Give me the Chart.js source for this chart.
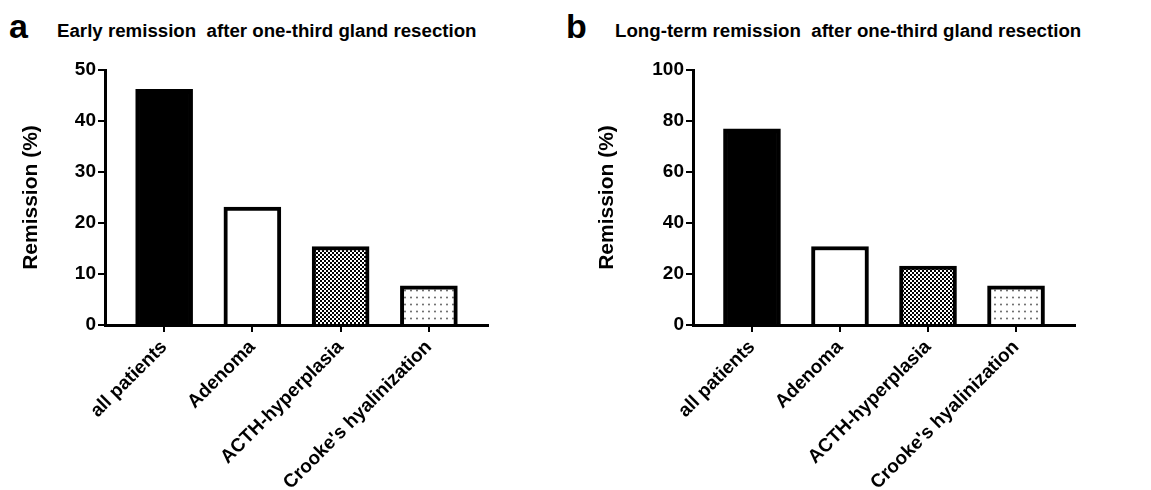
<!DOCTYPE html>
<html>
<head>
<meta charset="utf-8">
<script src="https://cdn.jsdelivr.net/npm/chart.js@4.4.0/dist/chart.umd.min.js"></script>
<style>
  html, body { margin: 0; padding: 0; background: #fff; }
  body { width: 1151px; height: 490px; position: relative; overflow: hidden; font-family: "Liberation Sans", Arial, sans-serif; color: #000; }
  .panel { position: absolute; top: 0; height: 490px; }
  .letter { position: absolute; font-weight: bold; font-size: 34px; line-height: 34px; }
  .title { position: absolute; font-weight: bold; font-size: 18.7px; line-height: 19px; white-space: pre; }
</style>
</head>
<body>
<div class="letter" style="left:9px; top:9px">a</div>
<div class="title" style="left:57px; top:21px">Early remission  after one-third gland resection</div>
<div class="letter" style="left:566px; top:9px">b</div>
<div class="title" style="left:615px; top:21px">Long-term remission  after one-third gland resection</div>
<div class="panel" style="left:0; width:560px"><canvas id="chartA"></canvas></div>
<div class="panel" style="left:560px; width:591px"><canvas id="chartB"></canvas></div>

<script>
// data
const categories = ['all patients', 'Adenoma', 'ACTH-hyperplasia', "Crooke's hyalinization"];
const earlyRemission = [46.2, 23.1, 15.4, 7.7];
const longTermRemission = [76.9, 30.8, 23.1, 15.4];
const earlyTicks = [0, 10, 20, 30, 40, 50];
const longTermTicks = [0, 20, 40, 60, 80, 100];

const FONT = '"Liberation Sans", Arial, sans-serif';

// fill patterns for the last two bars
function checkerPattern() {
  const c = document.createElement('canvas');
  c.width = 4; c.height = 4;
  const g = c.getContext('2d');
  g.fillStyle = '#fff'; g.fillRect(0, 0, 4, 4);
  g.fillStyle = '#000'; g.fillRect(0, 0, 2, 2); g.fillRect(2, 2, 2, 2);
  return g.createPattern(c, 'repeat');
}

function dotPattern() {
  const c = document.createElement('canvas');
  c.width = 6; c.height = 7;
  const g = c.getContext('2d');
  g.fillStyle = '#fff'; g.fillRect(0, 0, 6, 7);
  g.fillStyle = '#555';
  g.beginPath(); g.arc(3, 3.5, 0.9, 0, Math.PI * 2); g.fill();
  return g.createPattern(c, 'repeat');
}

const fills = ['#000', '#fff', checkerPattern(), dotPattern()];

function makeChart(id, values, ticks, yWidth, titleOffset, padRight) {
  return new Chart(document.getElementById(id), {
    type: 'bar',
    data: {
      datasets: [{
        data: values.map((v, i) => ({ x: i, y: v })),
        backgroundColor: fills,
        borderColor: '#000',
        borderWidth: 4,
        barThickness: 57
      }]
    },
    options: {
      responsive: true,
      maintainAspectRatio: false,
      animation: false,
      layout: { padding: { top: 70, right: padRight, left: 0, bottom: 0 } },
      plugins: { legend: { display: false }, tooltip: { enabled: false } },
      scales: {
        x: {
          type: 'linear',
          min: -0.67,
          max: 3.67,
          offset: false,
          afterFit: s => { s.height = 165; },
          afterBuildTicks: s => { s.ticks = categories.map((c, i) => ({ value: i })); },
          grid: { drawOnChartArea: false, drawTicks: true, tickLength: 7, color: '#000', lineWidth: 2, offset: false },
          border: { color: '#000', width: 3 },
          ticks: {
            autoSkip: false, minRotation: 45, maxRotation: 45, padding: 4, color: '#000',
            font: { family: FONT, size: 19, weight: 'bold' },
            callback: v => categories[v]
          }
        },
        y: {
          min: 0,
          max: ticks[ticks.length - 1],
          afterFit: s => { s.width = yWidth; },
          afterBuildTicks: s => { s.ticks = ticks.map(t => ({ value: t })); },
          grid: { drawOnChartArea: false, drawTicks: true, tickLength: 7, color: '#000', lineWidth: 2 },
          border: { color: '#000', width: 3 },
          ticks: { padding: 2, color: '#000', font: { family: FONT, size: 19, weight: 'bold' } },
          title: {
            display: true, text: 'Remission (%)', color: '#000',
            padding: { top: titleOffset, bottom: 0 },
            font: { family: FONT, size: 21, weight: 'bold' }
          }
        }
      }
    }
  });
}

makeChart('chartA', earlyRemission, earlyTicks, 105, 19, 72);
makeChart('chartB', longTermRemission, longTermTicks, 133, 35, 76);
</script>
</body>
</html>
